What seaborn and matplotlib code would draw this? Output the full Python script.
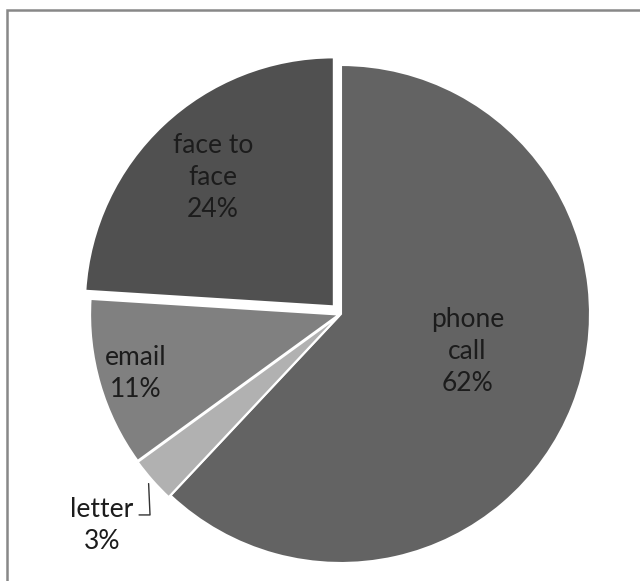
import numpy as np
import seaborn as sns
import matplotlib.pyplot as plt
from matplotlib.patches import Rectangle

categories = ["phone\ncall", "letter", "email", "face to\nface"]
shares = [62, 3, 11, 24]
colors = ["#636363", "#b1b1b1", "#808080", "#505050"]
explode = [0.0, 0.01, 0.008, 0.042]
label_r = [0.53, None, 0.86, 0.75]
label_da = [5, 0, 0, 0]  # small angular nudge of in-slice labels, degrees

sns.set_theme(style="white")
plt.rcParams['font.family'] = ['Lato', 'DejaVu Sans']

W, H = 640, 581
fig = plt.figure(figsize=(W / 100, H / 100), dpi=100)
fig.patch.set_facecolor("white")

# pie center (341, 314) px, radius 249 px
cx, cy, r = 341, 314, 249
ax = fig.add_axes([(cx - r) / W, (H - cy - r) / H, 2 * r / W, 2 * r / H])

wedges, _ = ax.pie(shares, colors=colors, explode=explode, startangle=90,
                   counterclock=False,
                   wedgeprops=dict(edgecolor="white", linewidth=1.5, clip_on=False))
ax.set_xlim(-1, 1)
ax.set_ylim(-1, 1)
ax.set_aspect("equal")
ax.axis("off")

txt_color = "#1c1c1c"
fs = 19
for w, lab, val, lr, da in zip(wedges, categories, shares, label_r, label_da):
    if lr is None:
        continue
    ang = np.deg2rad((w.theta1 + w.theta2) / 2 + da)
    ax.text(lr * np.cos(ang), lr * np.sin(ang), f"{lab}\n{val}%", ha="center",
            va="center", fontsize=fs, color=txt_color, linespacing=1.35)

# letter label outside with leader line
w = wedges[1]
ang = np.deg2rad((w.theta1 + w.theta2) / 2)
x0, y0 = 1.03 * np.cos(ang), 1.03 * np.sin(ang)
ax.plot([x0, -0.767, -0.811], [y0, -0.807, -0.807], color="#333333", lw=1,
        clip_on=False)
ax.text(-0.96, -0.85, f"{categories[1]}\n{shares[1]}%", ha="center", va="center",
        fontsize=fs, color=txt_color, linespacing=1.35)

# outer frame, cut off at right and bottom
top = 1 - 10 / H
fig.patches.append(Rectangle((7 / W, -0.2), 1.2, 0.2 + top, transform=fig.transFigure,
                             fill=False, edgecolor="#888888", linewidth=1.8))

fig.savefig("out.png", dpi=100)
